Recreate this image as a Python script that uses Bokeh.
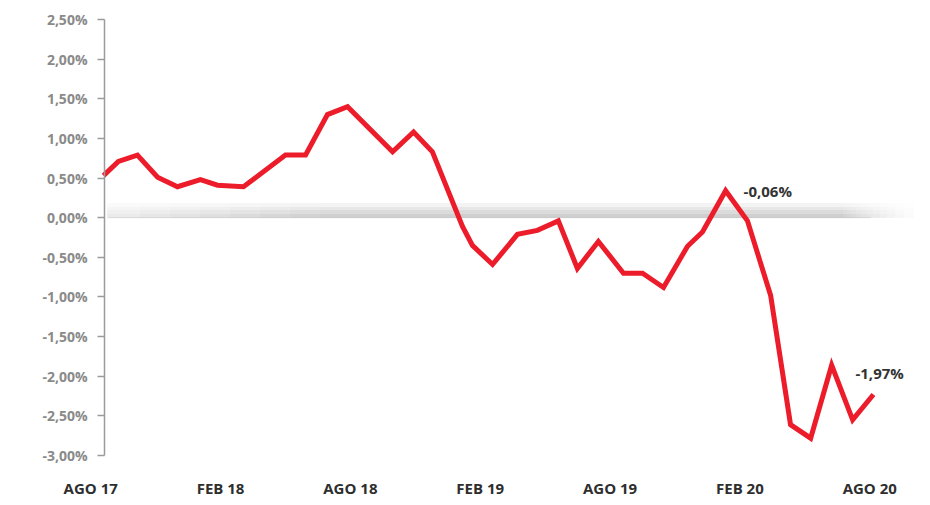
from bokeh.plotting import figure
from bokeh.models import ColumnDataSource, FixedTicker, Range1d, LinearAxis
from bokeh.core.properties import value
from bokeh.embed import file_html
from bokeh.resources import INLINE

# ---- data ----
# position in months counted from AGO 17 (fractional)
mes = [0.59, 1.28, 2.16, 3.09, 4.01, 5.07, 5.86, 7.06, 9.00, 9.93,
       10.94, 11.87, 13.95, 14.92, 15.79, 17.18, 17.64, 18.57, 19.72, 20.64,
       21.61, 22.49, 23.46, 24.62, 25.50, 26.47, 27.58, 28.27, 29.34, 30.35,
       31.42, 32.34, 33.27, 34.24, 35.21, 36.17]
variacion = [0.53, 0.71, 0.79, 0.51, 0.39, 0.48, 0.41, 0.39, 0.79, 0.79,
             1.30, 1.40, 0.83, 1.08, 0.83, -0.11, -0.35, -0.59, -0.21, -0.16,
             -0.04, -0.64, -0.30, -0.70, -0.70, -0.88, -0.36, -0.18, 0.34, -0.04,
             -0.98, -2.61, -2.78, -1.86, -2.55, -2.23]

x_ticks = [0, 6, 12, 18, 24, 30, 36]
x_tick_labels = ["AGO 17", "FEB 18", "AGO 18", "FEB 19", "AGO 19", "FEB 20", "AGO 20"]

y_ticks = [-3.0, -2.5, -2.0, -1.5, -1.0, -0.5, 0.0, 0.5, 1.0, 1.5, 2.0, 2.5]
y_tick_labels = ["-3,00%", "-2,50%", "-2,00%", "-1,50%", "-1,00%", "-0,50%",
                 "0,00%", "0,50%", "1,00%", "1,50%", "2,00%", "2,50%"]

annot_text = ["-0,06%", "-1,97%"]
annot_x = [30.17, 35.34]
annot_y = [0.34, -1.96]

# ---- layout helpers ----
PX0, PXM = 90.2, 21.64          # px of month 0 and px per month
def px2m(px):
    return (px - PX0) / PXM

Y0, PY = 219.0, 80.0            # px of 0% and px per 1 %
def py2v(py):
    return (Y0 - py) / PY

W, H = 925, 500
TOP, LEFT = 8, 0
AXIS_PX = 104                   # where the vertical axis line sits
FRAME_BOTTOM_PX = 471           # a little below the -3,00% tick
p = figure(width=W, height=H,
           x_range=Range1d(px2m(LEFT), px2m(W)),
           y_range=Range1d(py2v(FRAME_BOTTOM_PX), py2v(TOP)),
           output_backend="svg", toolbar_location=None,
           x_axis_location=None,
           min_border_left=LEFT, min_border_right=0,
           min_border_top=TOP, min_border_bottom=H - FRAME_BOTTOM_PX)
p.outline_line_color = None
p.grid.visible = False
p.background_fill_color = "white"
p.border_fill_color = "white"

# ---- soft shadow over the zero line ----
starts = [107, 107, 107, 107, 107, 140, 170, 200, 230, 260, 290, 320]
ends = [913, 903, 894, 886, 879, 872, 866, 860, 855, 850, 846, 842]
lefts, rights, bottoms, tops = [], [], [], []
for a, b in zip(starts, ends):
    for k in range(1, 5):
        lefts.append(px2m(a)); rights.append(px2m(b))
        bottoms.append(0.0); tops.append(0.045 * k)
p.quad(left=lefts, right=rights, bottom=bottoms, top=tops,
       fill_color="#6a6a6a", fill_alpha=0.0068, line_color=None)
p.segment(x0=[px2m(107)], y0=[0], x1=[px2m(870)], y1=[0],
          line_color="#c4c4c4", line_width=1, line_alpha=0.5)

# ---- main line ----
src = ColumnDataSource(dict(x=mes, y=variacion))
p.line("x", "y", source=src, line_color="#ec1c2a", line_width=5,
       line_join="miter")

# ---- y axis ----
ax = p.yaxis[0]
ax.fixed_location = px2m(AXIS_PX)
ax.ticker = FixedTicker(ticks=y_ticks)
ax.bounds = (y_ticks[0], y_ticks[-1])
ax.major_label_overrides = {t: l for t, l in zip(y_ticks, y_tick_labels)}
ax.axis_line_color = "#9b9b9b"
ax.axis_line_width = 1.5
ax.major_tick_line_color = "#9b9b9b"
ax.major_tick_line_width = 1.5
ax.major_tick_out = 7
ax.major_tick_in = 0
ax.minor_tick_line_color = None
ax.major_label_standoff = 10
ax.major_label_text_font = "Open Sans"
ax.major_label_text_font_size = "14px"
ax.major_label_text_font_style = "bold"
ax.major_label_text_color = "#8a8a8a"

# ---- x axis (labels only) ----
xax = LinearAxis(ticker=FixedTicker(ticks=x_ticks),
                 major_label_overrides={t: l for t, l in zip(x_ticks, x_tick_labels)})
xax.axis_line_color = None
xax.major_tick_line_color = None
xax.minor_tick_line_color = None
xax.major_tick_out = 0
xax.major_tick_in = 0
xax.major_label_standoff = 10
xax.major_label_text_font = "Open Sans"
xax.major_label_text_font_size = "15px"
xax.major_label_text_font_style = "bold"
xax.major_label_text_color = "#2e2e2e"
p.add_layout(xax, "below")

# ---- annotations ----
p.text(x=annot_x, y=annot_y, text=annot_text,
       text_align="left", text_baseline="middle",
       text_font=value("Open Sans"), text_font_size="15px",
       text_font_style="bold", text_color="#333333")

open("out.html", "w").write(file_html(p, INLINE))
